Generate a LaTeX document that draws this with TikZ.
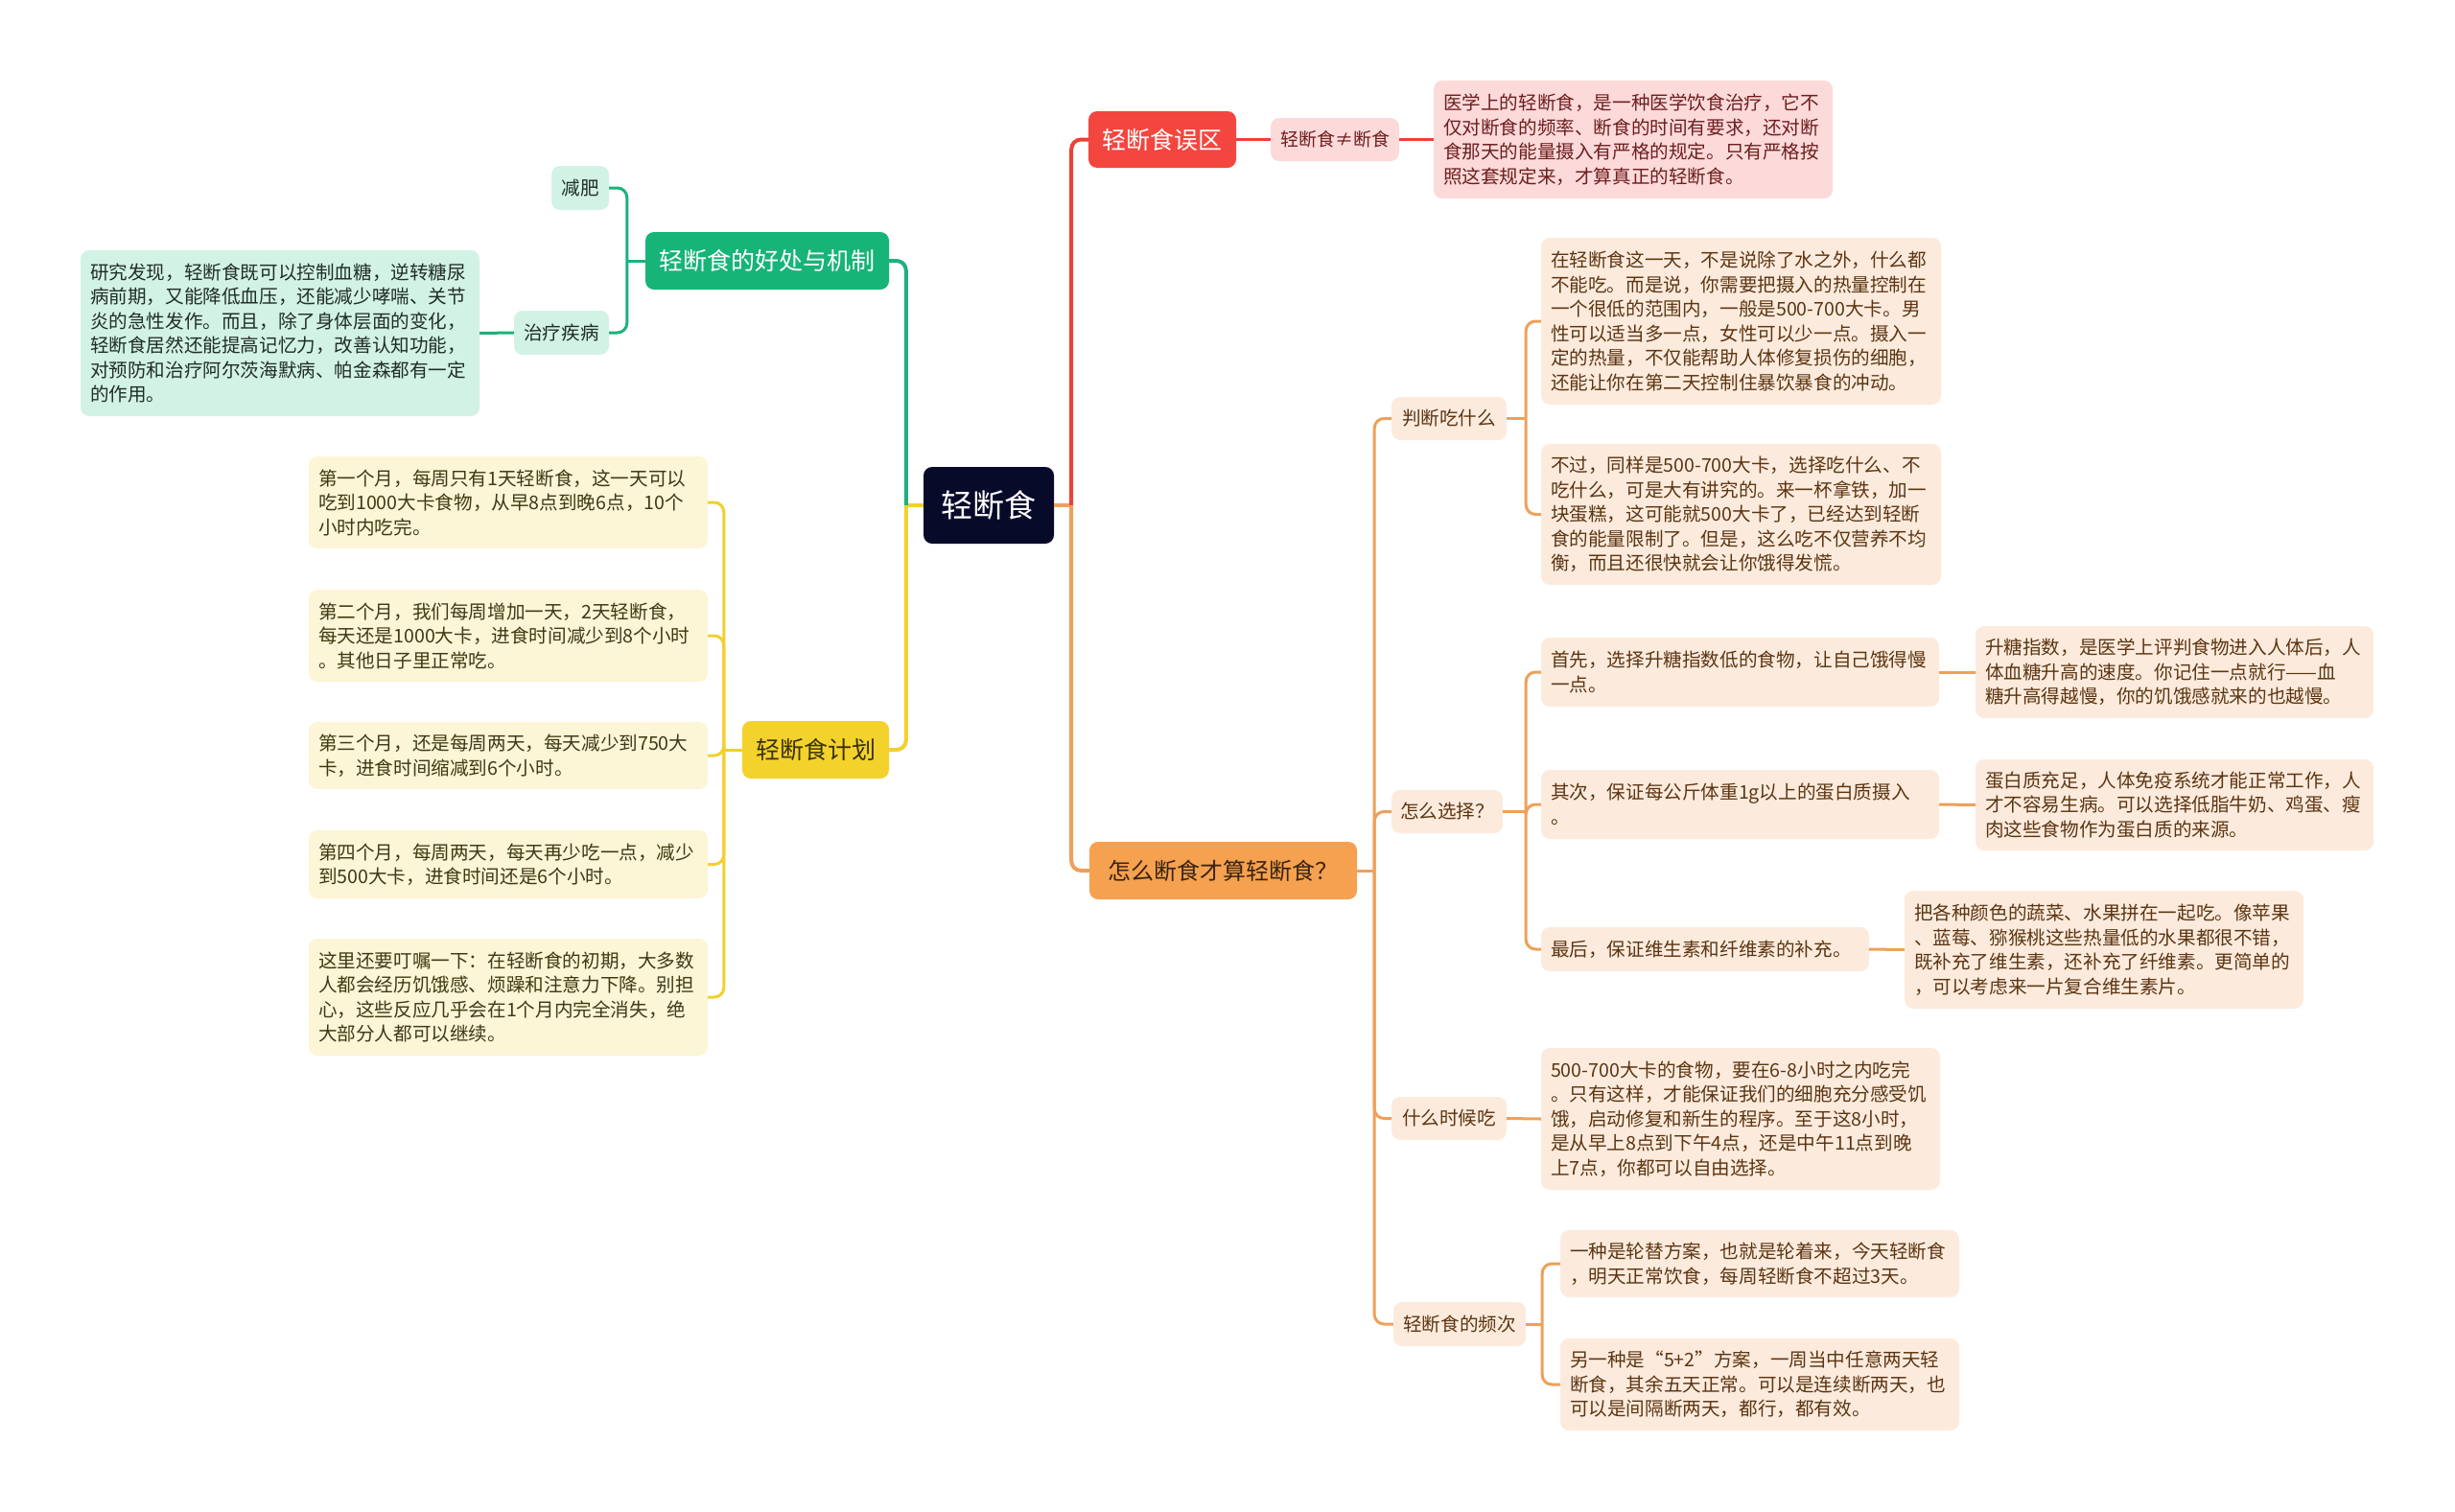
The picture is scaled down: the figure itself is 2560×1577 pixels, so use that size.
\documentclass[tikz,border=0pt]{standalone}
\usepackage{fontspec}
\setmainfont{Noto Sans CJK SC}
\usetikzlibrary{calc}
\definecolor{rootF}{HTML}{080A2A}
\definecolor{redF}{HTML}{F3463E}
\definecolor{redL}{HTML}{EE4037}
\definecolor{pinkF}{HTML}{FCDADA}
\definecolor{pinkT}{HTML}{6E1E1E}
\definecolor{orF}{HTML}{F5A14F}
\definecolor{orL}{HTML}{EEA05A}
\definecolor{orT}{HTML}{3A2310}
\definecolor{peachF}{HTML}{FCEBDD}
\definecolor{peachT}{HTML}{5C3512}
\definecolor{grF}{HTML}{17B478}
\definecolor{grL}{HTML}{1DB17B}
\definecolor{mintF}{HTML}{D3F2E6}
\definecolor{mintT}{HTML}{1F2E27}
\definecolor{yeF}{HTML}{F3D22B}
\definecolor{yeL}{HTML}{F2D02D}
\definecolor{yeT}{HTML}{3A3208}
\definecolor{creamF}{HTML}{FCF5D6}
\definecolor{creamT}{HTML}{3F3A12}
\begin{document}
\begin{tikzpicture}[x=1pt,y=-1pt,
  base/.style={rounded corners=9pt, inner sep=0pt},
  para/.style={base, inner xsep=10pt, align=left, font=\fontsize{19.6pt}{25.5pt}\selectfont},
  lab/.style={base, align=center, font=\fontsize{19.6pt}{24pt}\selectfont},
  main/.style={base, align=center, font=\fontsize{25pt}{30pt}\selectfont},
  lnA/.style={line width=4pt, rounded corners=10pt},
  lnB/.style={line width=3pt, rounded corners=10pt},
  pinkbox/.style={fill=pinkF, text=pinkT},
  peachbox/.style={fill=peachF, text=peachT},
  mintbox/.style={fill=mintF, text=mintT},
  creambox/.style={fill=creamF, text=creamT}]
\fill[white] (0,0) rectangle (2560,1577);
\useasboundingbox (0,0) rectangle (2560,1577);

% root
\node[base, fill=rootF, text=white, minimum width=136pt, minimum height=80pt,
      font=\fontsize{33pt}{36pt}\selectfont] (root) at (1031,527) {轻断食};

% red branch
\node[main, fill=redF, text=white, minimum width=154pt, minimum height=59pt] (wq) at (1212,145.5) {轻断食误区};
\node[lab, pinkbox, minimum width=134pt, minimum height=45pt, font=\fontsize{19pt}{24pt}\selectfont] (neq) at (1392,145.5) {轻断食≠断食};
\node[para, pinkbox, text width=396pt, minimum height=123pt] (wqt) at (1703,145.5)
 {医学上的轻断食，是一种医学饮食治疗，它不\\仅对断食的频率、断食的时间有要求，还对断\\食那天的能量摄入有严格的规定。只有严格按\\照这套规定来，才算真正的轻断食。};

% orange branch
\node[base, fill=orF, text=orT, minimum width=279pt, minimum height=60pt,
      font=\fontsize{24pt}{28pt}\selectfont] (how) at (1275.5,908) {怎么断食才算轻断食？};

\node[lab, peachbox, minimum width=120pt, minimum height=45pt] (pd) at (1511,436.5) {判断吃什么};
\node[para, peachbox, text width=397pt, minimum height=174pt] (pd1) at (1815.5,335)
 {在轻断食这一天，不是说除了水之外，什么都\\不能吃。而是说，你需要把摄入的热量控制在\\一个很低的范围内，一般是500-700大卡。男\\性可以适当多一点，女性可以少一点。摄入一\\定的热量，不仅能帮助人体修复损伤的细胞，\\还能让你在第二天控制住暴饮暴食的冲动。};
\node[para, peachbox, text width=397pt, minimum height=147pt] (pd2) at (1815.5,536.5)
 {不过，同样是500-700大卡，选择吃什么、不\\吃什么，可是大有讲究的。来一杯拿铁，加一\\块蛋糕，这可能就500大卡了，已经达到轻断\\食的能量限制了。但是，这么吃不仅营养不均\\衡，而且还很快就会让你饿得发慌。};

\node[lab, peachbox, minimum width=116pt, minimum height=45pt] (zx) at (1509,846.5) {怎么选择？};
\node[para, peachbox, text width=395pt, minimum height=72pt] (zx1) at (1814.5,701)
 {首先，选择升糖指数低的食物，让自己饿得慢\\一点。};
\node[para, peachbox, text width=395pt, minimum height=96pt] (zx1d) at (2267.5,701)
 {升糖指数，是医学上评判食物进入人体后，人\\体血糖升高的速度。你记住一点就行——血\\糖升高得越慢，你的饥饿感就来的也越慢。};
\node[para, peachbox, text width=395pt, minimum height=72pt] (zx2) at (1814.5,839)
 {其次，保证每公斤体重1g以上的蛋白质摄入\\。};
\node[para, peachbox, text width=395pt, minimum height=95pt] (zx2d) at (2267.5,839.5)
 {蛋白质充足，人体免疫系统才能正常工作，人\\才不容易生病。可以选择低脂牛奶、鸡蛋、瘦\\肉这些食物作为蛋白质的来源。};
\node[para, peachbox, text width=322pt, minimum height=46pt] (zx3) at (1778,990)
 {最后，保证维生素和纤维素的补充。};
\node[para, peachbox, text width=396pt, minimum height=123pt] (zx3d) at (2194,990.5)
 {把各种颜色的蔬菜、水果拼在一起吃。像苹果\\、蓝莓、猕猴桃这些热量低的水果都很不错，\\既补充了维生素，还补充了纤维素。更简单的\\，可以考虑来一片复合维生素片。};

\node[lab, peachbox, minimum width=120pt, minimum height=45pt] (sj) at (1511,1166.5) {什么时候吃};
\node[para, peachbox, text width=396pt, minimum height=148pt] (sj1) at (1815,1167)
 {500-700大卡的食物，要在6-8小时之内吃完\\。只有这样，才能保证我们的细胞充分感受饥\\饿，启动修复和新生的程序。至于这8小时，\\是从早上8点到下午4点，还是中午11点到晚\\上7点，你都可以自由选择。};

\node[lab, peachbox, minimum width=138pt, minimum height=46pt] (pc) at (1522,1381) {轻断食的频次};
\node[para, peachbox, text width=396pt, minimum height=70pt] (pc1) at (1835,1318)
 {一种是轮替方案，也就是轮着来，今天轻断食\\，明天正常饮食，每周轻断食不超过3天。};
\node[para, peachbox, text width=396pt, minimum height=96pt] (pc2) at (1835,1444)
 {另一种是“5+2”方案，一周当中任意两天轻\\断食，其余五天正常。可以是连续断两天，也\\可以是间隔断两天，都行，都有效。};

% green branch
\node[main, fill=grF, text=white, minimum width=254pt, minimum height=60pt] (hc) at (800,272) {轻断食的好处与机制};
\node[lab, mintbox, minimum width=60pt, minimum height=46pt] (jf) at (605,196) {减肥};
\node[lab, mintbox, minimum width=99pt, minimum height=46pt] (zl) at (585.5,347) {治疗疾病};
\node[para, mintbox, text width=396pt, minimum height=173pt] (zlt) at (292,347.5)
 {研究发现，轻断食既可以控制血糖，逆转糖尿\\病前期，又能降低血压，还能减少哮喘、关节\\炎的急性发作。而且，除了身体层面的变化，\\轻断食居然还能提高记忆力，改善认知功能，\\对预防和治疗阿尔茨海默病、帕金森都有一定\\的作用。};

% yellow branch
\node[main, fill=yeF, text=yeT, minimum width=153pt, minimum height=60pt] (jh) at (850.5,782) {轻断食计划};
\node[para, creambox, text width=396pt, minimum height=96pt] (y1) at (530,524)
 {第一个月，每周只有1天轻断食，这一天可以\\吃到1000大卡食物，从早8点到晚6点，10个\\小时内吃完。};
\node[para, creambox, text width=396pt, minimum height=96pt] (y2) at (530,663)
 {第二个月，我们每周增加一天，2天轻断食，\\每天还是1000大卡，进食时间减少到8个小时\\。其他日子里正常吃。};
\node[para, creambox, text width=396pt, minimum height=70pt] (y3) at (530,788)
 {第三个月，还是每周两天，每天减少到750大\\卡，进食时间缩减到6个小时。};
\node[para, creambox, text width=396pt, minimum height=71pt] (y4) at (530,901.5)
 {第四个月，每周两天，每天再少吃一点，减少\\到500大卡，进食时间还是6个小时。};
\node[para, creambox, text width=396pt, minimum height=122pt] (y5) at (530,1040)
 {这里还要叮嘱一下：在轻断食的初期，大多数\\人都会经历饥饿感、烦躁和注意力下降。别担\\心，这些反应几乎会在1个月内完全消失，绝\\大部分人都可以继续。};

% ---------- connectors ----------
\coordinate (rt) at ([xshift=18pt]root.east);
\coordinate (lt) at ([xshift=-18pt]root.west);
\draw[lnA, orL] (root.east) -- (rt);
\draw[lnA, redL] (rt) |- (wq.west);
\draw[lnA, orL] (rt) |- (how.west);
\draw[lnA, yeL] (root.west) -- (lt);
\draw[lnA, grL] (lt) |- (hc.east);
\draw[lnA, yeL] (lt) |- (jh.east);

\draw[lnB, redL] (wq.east) -- (neq.west);
\draw[lnB, redL] (neq.east) -- (wqt.west);

\coordinate (ot) at ([xshift=18pt]how.east);
\draw[lnB, orL] (how.east) -- (ot);
\foreach \n in {pd,zx,sj,pc} \draw[lnB, orL] (ot) |- (\n.west);

\coordinate (pdt) at ([xshift=20pt]pd.east);
\draw[lnB, orL] (pd.east) -- (pdt);
\draw[lnB, orL] (pdt) |- (pd1.west);
\draw[lnB, orL] (pdt) |- (pd2.west);

\coordinate (zxt) at ([xshift=24pt]zx.east);
\draw[lnB, orL] (zx.east) -- (zxt);
\foreach \n in {zx1,zx2,zx3} \draw[lnB, orL] (zxt) |- (\n.west);
\draw[lnB, orL] (zx1.east) -- (zx1d.west);
\draw[lnB, orL] (zx2.east) -- (zx2d.west);
\draw[lnB, orL] (zx3.east) -- (zx3d.west);

\draw[lnB, orL] (sj.east) -- (sj1.west);

\coordinate (pct) at ([xshift=17pt]pc.east);
\draw[lnB, orL] (pc.east) -- (pct);
\draw[lnB, orL] (pct) |- (pc1.west);
\draw[lnB, orL] (pct) |- (pc2.west);

\coordinate (gt) at ([xshift=-19pt]hc.west);
\draw[lnB, grL] (hc.west) -- (gt);
\draw[lnB, grL] (gt) |- (jf.east);
\draw[lnB, grL] (gt) |- (zl.east);
\draw[lnB, grL] (zl.west) -- (zlt.east);

\coordinate (yt) at ([xshift=-19pt]jh.west);
\draw[lnB, yeL] (jh.west) -- (yt);
\foreach \n in {y1,y2,y3,y4,y5} \draw[lnB, yeL] (yt) |- (\n.east);
\end{tikzpicture}
\end{document}
